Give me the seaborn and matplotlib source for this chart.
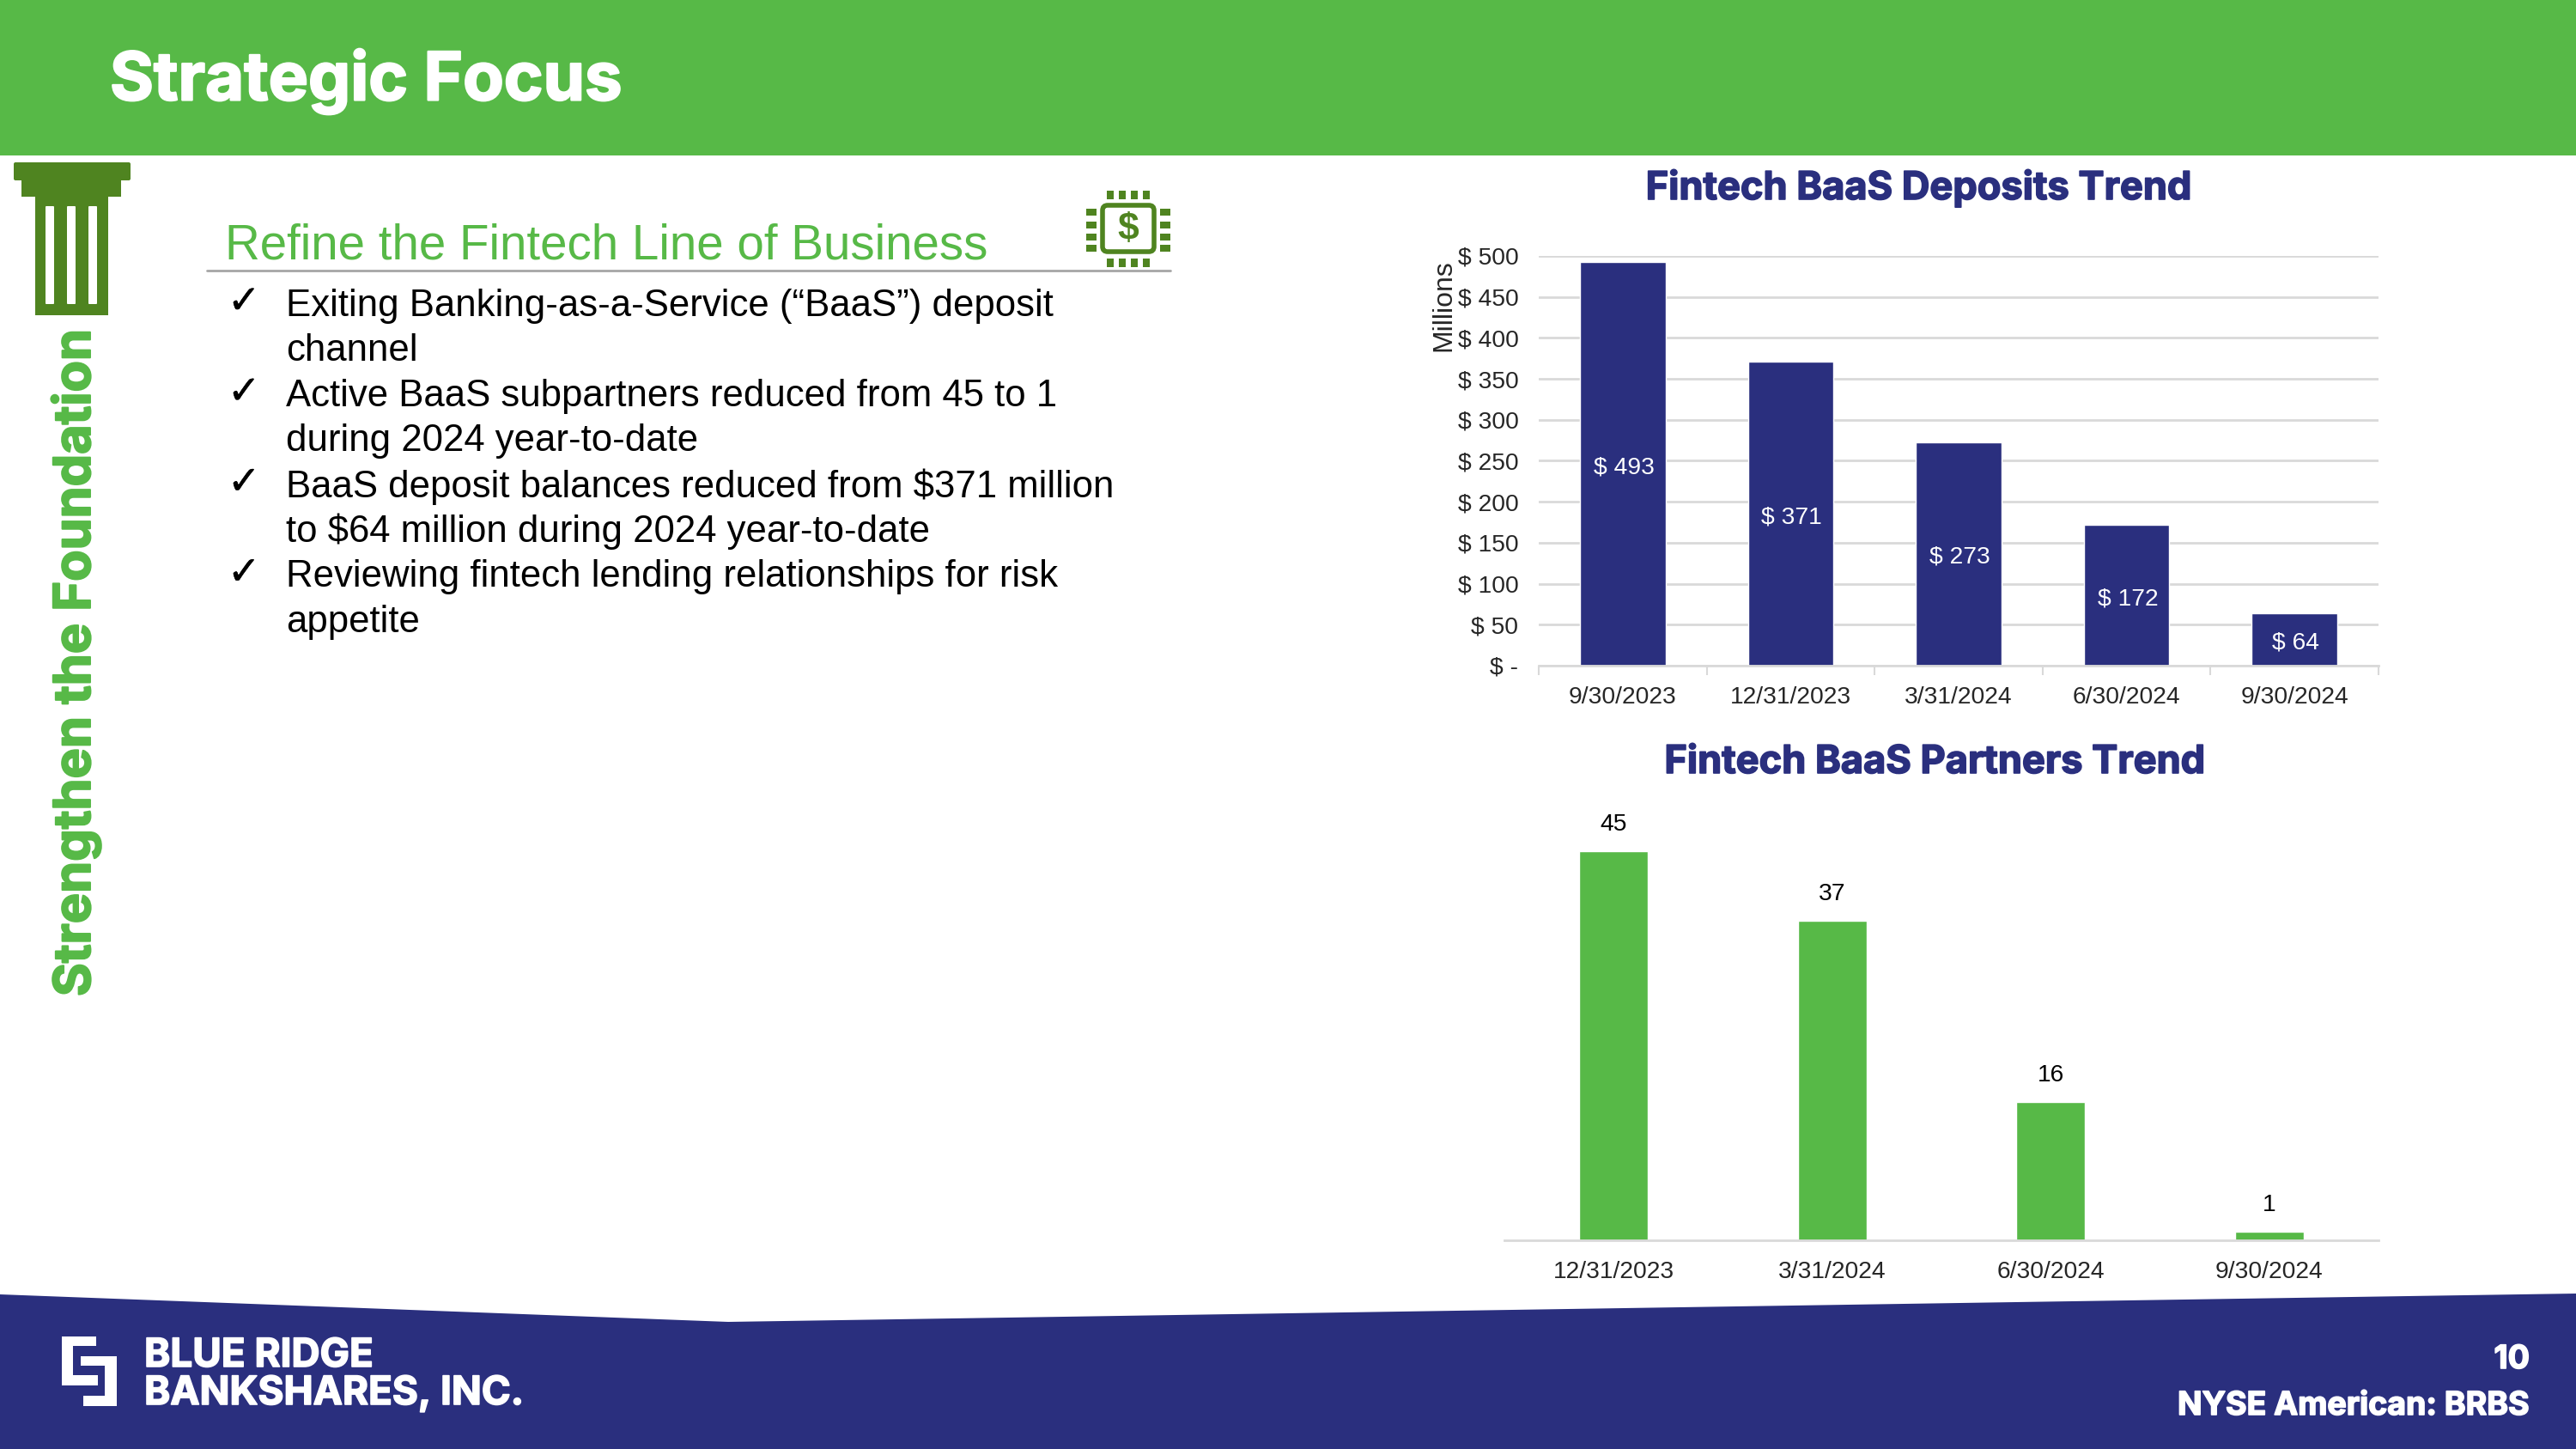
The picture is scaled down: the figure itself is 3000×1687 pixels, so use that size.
import matplotlib
matplotlib.use('Agg')
import matplotlib.pyplot as plt
import matplotlib.patheffects as pe
from matplotlib.patches import Polygon, Rectangle, FancyBboxPatch
import pandas as pd
import seaborn as sns

# chart data
deposit_dates = ['9/30/2023', '12/31/2023', '3/31/2024', '6/30/2024', '9/30/2024']
deposit_values = [493, 371, 273, 172, 64]
deposit_labels = ['$ 493', '$ 371', '$ 273', '$ 172', '$ 64']
deposit_ticks = [0, 50, 100, 150, 200, 250, 300, 350, 400, 450, 500]
deposit_tick_labels = ['$ -', '$ 50', '$ 100', '$ 150', '$ 200', '$ 250', '$ 300', '$ 350', '$ 400', '$ 450', '$ 500']

partner_dates = ['12/31/2023', '3/31/2024', '6/30/2024', '9/30/2024']
partner_values = [45, 37, 16, 1]

bullet_lines = [
    ('\u2713', 'Exiting Banking-as-a-Service (\u201cBaaS\u201d) deposit'),
    ('', 'channel'),
    ('\u2713', 'Active BaaS subpartners reduced from 45 to 1'),
    ('', 'during 2024 year-to-date'),
    ('\u2713', 'BaaS deposit balances reduced from $371 million'),
    ('', 'to $64 million during 2024 year-to-date'),
    ('\u2713', 'Reviewing fintech lending relationships for risk'),
    ('', 'appetite'),
]

GREEN = '#57B947'
DARK_GREEN = '#4F8420'
NAVY = '#2A2F7E'
GRID = '#D9D9D9'
W, H = 3000, 1687
BODY = 'Liberation Sans'
HEAD = 'Inter'

sns.set_style('white')
plt.rcParams['font.family'] = [BODY, 'DejaVu Sans']


def pixel_axes(fig, left, top, right, bottom):
    # axes placed by slide pixels, y counted from the top
    return fig.add_axes([left / W, 1 - bottom / H, (right - left) / W, (bottom - top) / H])


def heavy_text(bg, x, y, text, color, size, stroke=1.2, **kwargs):
    # Inter bold with a thin outline, closer to the heavy slide font
    t = bg.text(x, y, text, color=color, fontsize=size, fontweight='bold', family=HEAD, va='center', **kwargs)
    t.set_path_effects([pe.withStroke(linewidth=stroke, foreground=color)])
    return t


def draw_slide_frame(bg):
    # header, footer band and the small icons
    bg.add_patch(Rectangle((0, 0), W, 181, color=GREEN, lw=0))
    bg.add_patch(Polygon([(0, 1507), (848, 1539), (W, 1506), (W, H), (0, H)], color=NAVY, lw=0))
    heavy_text(bg, 128, 95, 'Strategic Focus', 'white', 56, stroke=1.6)

    # column
    bg.add_patch(FancyBboxPatch((18, 191), 132, 17, boxstyle='round,pad=2', color=DARK_GREEN, lw=0))
    bg.add_patch(Rectangle((25, 209), 116, 20, color=DARK_GREEN, lw=0))
    bg.add_patch(Rectangle((41, 229), 85, 138, color=DARK_GREEN, lw=0))
    for x in [53, 78, 103]:
        bg.add_patch(FancyBboxPatch((x + 1, 241), 8, 112, boxstyle='round,pad=1', color='white', lw=0))
    heavy_text(bg, 88, 771, 'Strengthen the Foundation', GREEN, 42.8, stroke=1.4, rotation=90, ha='center')

    # heading and bullets
    bg.text(262, 286, 'Refine the Fintech Line of Business', color=GREEN, fontsize=40.7, va='center')
    bg.plot([241, 1363], [315, 315], color='#A6A6A6', lw=2)
    for i, (mark, line) in enumerate(bullet_lines):
        y = 356 + i * 52.6
        if mark:
            t = bg.text(265, y - 4, mark, fontsize=33, family='DejaVu Sans', va='center', color='black')
            t.set_path_effects([pe.withStroke(linewidth=0.3, foreground='black')])
        bg.text(333, y, line, fontsize=31.5, va='center', color='black')

    # chip icon
    bg.add_patch(FancyBboxPatch((1290, 245), 48, 42, boxstyle='round,pad=6', fill=False, ec=DARK_GREEN, lw=4))
    bg.text(1314, 267, '$', color=DARK_GREEN, fontsize=32, fontweight='bold', ha='center', va='center')
    for x in [1290, 1304, 1318, 1332]:
        bg.add_patch(Rectangle((x - 1, 222), 8, 10, color=DARK_GREEN, lw=0))
        bg.add_patch(Rectangle((x - 1, 301), 8, 10, color=DARK_GREEN, lw=0))
    for y in [243, 258, 272, 285]:
        bg.add_patch(Rectangle((1265, y), 12, 8, color=DARK_GREEN, lw=0))
        bg.add_patch(Rectangle((1351, y), 12, 8, color=DARK_GREEN, lw=0))

    # logo
    bg.add_patch(Polygon([(72, 1556), (112, 1556), (112, 1567), (85, 1567), (85, 1601), (114, 1601),
                          (114, 1613), (72, 1613)], color='white', lw=0))
    bg.add_patch(Polygon([(94, 1579), (136, 1579), (136, 1637), (97, 1637), (97, 1625), (122, 1625),
                          (122, 1590), (94, 1590)], color='white', lw=0))
    heavy_text(bg, 168, 1579, 'BLUE RIDGE', 'white', 33)
    heavy_text(bg, 168, 1623, 'BANKSHARES, INC.', 'white', 33)
    heavy_text(bg, 2946, 1583, '10', 'white', 27, ha='right')
    heavy_text(bg, 2946, 1637, 'NYSE American: BRBS', 'white', 27, ha='right')

    # chart titles
    heavy_text(bg, 2235, 219, 'Fintech BaaS Deposits Trend', NAVY, 32.5, ha='center')
    heavy_text(bg, 2254, 888, 'Fintech BaaS Partners Trend', NAVY, 32.5, ha='center')


def deposits_chart(ax):
    df = pd.DataFrame({'date': deposit_dates, 'value': deposit_values})
    sns.barplot(data=df, x='date', y='value', color=NAVY, saturation=1, width=0.51, ax=ax)
    ax.set_xlim(-0.5, len(deposit_dates) - 0.5)
    ax.set_ylim(0, 500)
    ax.set_yticks(deposit_ticks, deposit_tick_labels)
    ax.set_axisbelow(True)
    ax.grid(axis='y', color=GRID, lw=2)
    ax.set_xlabel('')
    ax.set_ylabel('Millions', fontsize=23)
    ax.yaxis.set_label_coords((1696 - 1792) / 978, (775 - 356) / 477)
    value_labels = ax.bar_label(ax.containers[0], labels=deposit_labels, label_type='center',
                                color='white', fontsize=20.3)
    for label in value_labels:
        label.xyann = (1, -3)
    ax.set_xticks([i - 0.5 for i in range(len(deposit_dates) + 1)], minor=True)
    ax.tick_params(axis='x', which='minor', length=8, width=1.5, color=GRID, bottom=True)
    ax.tick_params(axis='x', which='major', length=0, pad=17, labelsize=20.3)
    ax.tick_params(axis='y', length=0, pad=17, labelsize=20.3)
    sns.despine(ax=ax, left=True, top=True, right=True)
    ax.spines['bottom'].set_color(GRID)
    ax.spines['bottom'].set_linewidth(2)


def partners_chart(ax):
    df = pd.DataFrame({'date': partner_dates, 'value': partner_values})
    sns.barplot(data=df, x='date', y='value', color=GREEN, saturation=1, width=0.314, ax=ax)
    ax.set_xlim(-0.5, len(partner_dates) - 0.5)
    ax.set_ylim(0, 50)
    ax.set_yticks([])
    ax.set_xlabel('')
    ax.set_ylabel('')
    ax.bar_label(ax.containers[0], padding=13, color='black', fontsize=20.3)
    ax.tick_params(axis='x', length=0, pad=17, labelsize=20.3)
    sns.despine(ax=ax, left=True, top=True, right=True)
    ax.spines['bottom'].set_color(GRID)
    ax.spines['bottom'].set_linewidth(2)


fig = plt.figure(figsize=(30, 16.87), dpi=100, facecolor='white')
bg = fig.add_axes([0, 0, 1, 1])
bg.set_xlim(0, W)
bg.set_ylim(H, 0)
bg.axis('off')
draw_slide_frame(bg)

deposits_chart(pixel_axes(fig, 1792, 298, 2770, 775))
partners_chart(pixel_axes(fig, 1752, 941, 2770, 1444))

fig.savefig('out.png', dpi=100)
